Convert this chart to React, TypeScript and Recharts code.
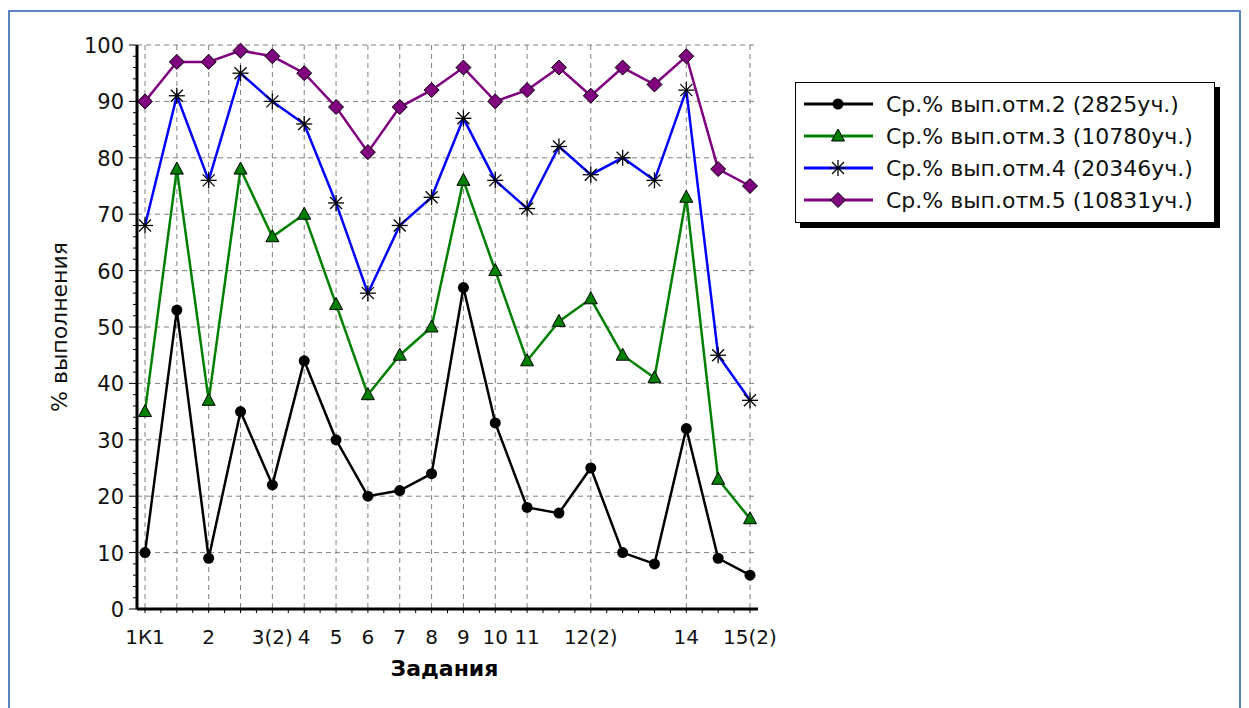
import { LineChart, Line, XAxis, YAxis, CartesianGrid } from "recharts";

// categories on the x axis ("" = no label shown for that task)
const xLabels = [
  "1К1", "", "2", "", "3(2)", "4", "5", "6", "7", "8",
  "9", "10", "11", "", "12(2)", "", "", "14", "", "15(2)",
];
// tasks that get a vertical grid line
const gridCats = [0, 1, 2, 3, 4, 5, 6, 7, 8, 9, 10, 11, 12, 14, 17, 19];

const otm2 = [10, 53, 9, 35, 22, 44, 30, 20, 21, 24, 57, 33, 18, 17, 25, 10, 8, 32, 9, 6];
const otm3 = [35, 78, 37, 78, 66, 70, 54, 38, 45, 50, 76, 60, 44, 51, 55, 45, 41, 73, 23, 16];
const otm4 = [68, 91, 76, 95, 90, 86, 72, 56, 68, 73, 87, 76, 71, 82, 77, 80, 76, 92, 45, 37];
const otm5 = [90, 97, 97, 99, 98, 95, 89, 81, 89, 92, 96, 90, 92, 96, 91, 96, 93, 98, 78, 75];

const seriesNames = [
  "Ср.% вып.отм.2 (2825уч.)",
  "Ср.% вып.отм.3 (10780уч.)",
  "Ср.% вып.отм.4 (20346уч.)",
  "Ср.% вып.отм.5 (10831уч.)",
];

const yMajor = [0, 10, 20, 30, 40, 50, 60, 70, 80, 90, 100];
const yTicks = Array.from({ length: 51 }, (_, k) => k * 2);
const xTicks = Array.from({ length: 39 }, (_, k) => k / 2);

const data = xLabels.map((_, i) => ({
  i,
  o2: otm2[i],
  o3: otm3[i],
  o4: otm4[i],
  o5: otm5[i],
}));

const FONT = "'DejaVu Sans', Verdana, sans-serif";

function Circle({ cx, cy }: { cx: number; cy: number }) {
  return <circle cx={cx} cy={cy} r={5.5} fill="#000" />;
}

function Triangle({ cx, cy }: { cx: number; cy: number }) {
  return (
    <polygon
      points={`${cx},${cy - 7} ${cx - 6.5},${cy + 5} ${cx + 6.5},${cy + 5}`}
      fill="#008000"
      stroke="#000"
      strokeWidth={1}
    />
  );
}

function Star({ cx, cy }: { cx: number; cy: number }) {
  const d = 8;
  const e = 6;
  return (
    <g stroke="#000" strokeWidth={1.3}>
      <line x1={cx - d} x2={cx + d} y1={cy} y2={cy} />
      <line x1={cx} x2={cx} y1={cy - d} y2={cy + d} />
      <line x1={cx - e} x2={cx + e} y1={cy - e} y2={cy + e} />
      <line x1={cx - e} x2={cx + e} y1={cy + e} y2={cy - e} />
    </g>
  );
}

function Diamond({ cx, cy }: { cx: number; cy: number }) {
  return (
    <polygon
      points={`${cx},${cy - 7.5} ${cx + 7.5},${cy} ${cx},${cy + 7.5} ${cx - 7.5},${cy}`}
      fill="#800080"
      stroke="#000"
      strokeWidth={1}
    />
  );
}

const markers = [Circle, Triangle, Star, Diamond];
const colors = ["#000000", "#008000", "#0000ff", "#800080"];
const keys = ["o2", "o3", "o4", "o5"];

function YTick(props: any) {
  const { x, y, payload } = props;
  const v = payload.value as number;
  const major = v % 10 === 0;
  return (
    <g>
      <line x1={x - (major ? 8 : 4)} x2={x} y1={y} y2={y} stroke="#000" />
      {major && (
        <text x={x - 13} y={y} dy={8} textAnchor="end" fontSize={21} fontFamily={FONT} fill="#111">
          {v}
        </text>
      )}
    </g>
  );
}

function XTick(props: any) {
  const { x, y, payload } = props;
  const v = payload.value as number;
  const label = Number.isInteger(v) ? xLabels[v] : "";
  return (
    <g>
      <line x1={x} x2={x} y1={y} y2={y + 4} stroke="#000" />
      {label && (
        <text x={x} y={y + 35} textAnchor="middle" fontSize={20} fontFamily={FONT} fill="#111">
          {label}
        </text>
      )}
    </g>
  );
}

function YLabel(props: any) {
  const { viewBox } = props;
  const x = viewBox.x + 13;
  const y = viewBox.y + viewBox.height / 2;
  return (
    <text
      x={x}
      y={y}
      dy={7}
      transform={`rotate(-90, ${x}, ${y})`}
      textAnchor="middle"
      fontSize={22}
      fontFamily={FONT}
      fill="#111"
    >
      % выполнения
    </text>
  );
}

function XLabel(props: any) {
  const { viewBox } = props;
  return (
    <text
      x={viewBox.x + viewBox.width / 2 - 3}
      y={viewBox.y + 67}
      textAnchor="middle"
      fontSize={22}
      fontWeight="bold"
      fontFamily={FONT}
      fill="#000"
    >
      Задания
    </text>
  );
}

function LegendBox() {
  return (
    <div
      style={{
        position: "absolute",
        left: 785,
        top: 70,
        width: 418,
        height: 134,
        border: "1px solid #000",
        background: "#fff",
        boxShadow: "5px 5px 0 #000",
        paddingTop: 5,
        boxSizing: "content-box",
        fontFamily: FONT,
        fontSize: 22,
      }}
    >
      {seriesNames.map((name, k) => {
        const M = markers[k];
        return (
          <div key={name} style={{ display: "flex", alignItems: "center", height: 32 }}>
            <svg width={90} height={32} style={{ flex: "none" }}>
              <line x1={8} x2={77} y1={16} y2={16} stroke={colors[k]} strokeWidth={3} />
              <M cx={42} cy={16} />
            </svg>
            <span style={{ whiteSpace: "nowrap", color: "#111" }}>{name}</span>
          </div>
        );
      })}
    </div>
  );
}

export default function App() {
  return (
    <div
      style={{
        position: "absolute",
        left: 8,
        top: 10,
        width: 1229,
        height: 700,
        borderTop: "2px solid #5a85c4",
        borderLeft: "2px solid #5a85c4",
        borderRight: "2px solid #5a85c4",
        background: "#fff",
      }}
    >
      <LineChart
        width={1229}
        height={690}
        data={data}
        margin={{ top: 33, right: 481, bottom: 13, left: 37 }}
      >
        <CartesianGrid
          stroke="#808080"
          strokeDasharray="5 4"
          verticalValues={gridCats}
          horizontalValues={yMajor}
        />
        <XAxis
          dataKey="i"
          type="number"
          domain={[0, 19]}
          ticks={xTicks}
          interval={0}
          padding={{ left: 8, right: 8 }}
          tick={<XTick />}
          tickLine={false}
          tickSize={0}
          tickMargin={0}
          height={80}
          axisLine={{ stroke: "#000", strokeWidth: 3 }}
          label={<XLabel />}
        />
        <YAxis
          type="number"
          domain={[0, 100]}
          ticks={yTicks}
          interval={0}
          tick={<YTick />}
          tickLine={false}
          tickSize={0}
          tickMargin={0}
          width={90}
          axisLine={{ stroke: "#000", strokeWidth: 3 }}
          label={<YLabel />}
        />
        {keys.map((k, idx) => {
          const M = markers[idx];
          return (
            <Line
              key={k}
              type="linear"
              dataKey={k}
              stroke={colors[idx]}
              strokeWidth={2.5}
              dot={(p: any) => <M key={`${k}-${p.index}`} cx={p.cx} cy={p.cy} />}
              activeDot={false}
              isAnimationActive={false}
            />
          );
        })}
      </LineChart>
      <LegendBox />
    </div>
  );
}
